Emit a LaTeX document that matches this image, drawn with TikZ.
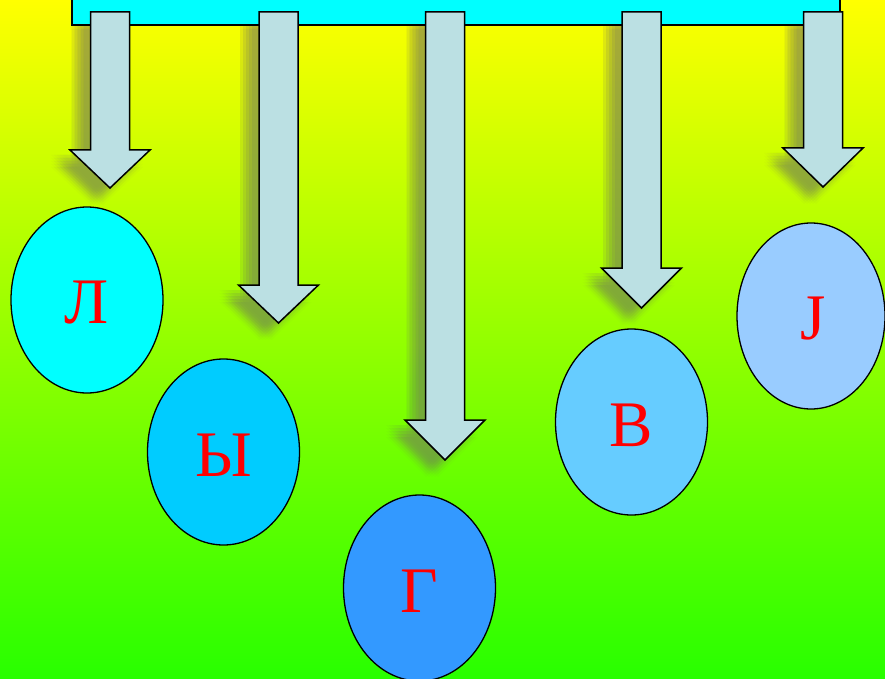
\documentclass[tikz,border=0pt]{standalone}
\usepackage{fontspec}
\setmainfont{Liberation Serif}
\usetikzlibrary{shapes.geometric}
\definecolor{bgtop}{RGB}{255,255,0}
\definecolor{bgbot}{RGB}{40,255,0}
\definecolor{barcyan}{RGB}{0,255,255}
\definecolor{arrowfill}{RGB}{187,224,227}
\definecolor{cA}{RGB}{0,255,255}
\definecolor{cB}{RGB}{0,204,255}
\definecolor{cC}{RGB}{51,153,255}
\definecolor{cD}{RGB}{102,204,255}
\definecolor{cE}{RGB}{153,204,255}
\newcommand\myarrow[4]{(#1-19.5,#2) -- (#1+19.5,#2) -- (#1+19.5,#3) -- (#1+40,#3) -- (#1,#4) -- (#1-40,#3) -- (#1-19.5,#3) -- cycle}
\newcommand\myshadow[4]{%
  \foreach \dx in {-19,-16,-13,-10,-7}{%
    \foreach \dy in {5,8,11,14,17}{%
      \fill[shadowfill, shift={(\dx,\dy)}] \myarrow{#1}{#2}{#3}{#4};}}}
\tikzset{
  shadowfill/.style={fill=black!55, opacity=0.03},
  blockarrow/.style={fill=arrowfill, draw=black, line width=1.5pt, line join=miter},
  letterball/.style={ellipse, draw=black, line width=1.3pt, minimum width=152pt, minimum height=186pt, inner sep=0pt, text=red, font=\fontsize{65}{70}\selectfont},
}
\begin{document}
\begin{tikzpicture}[x=1pt,y=-1pt]
\useasboundingbox (0,0) rectangle (885,679);
\clip (0,0) rectangle (885,679);
\shade[top color=bgtop, bottom color=bgbot] (0,0) rectangle (885,679);
% shadows
\myshadow{110}{12}{150}{188}
\myshadow{278.5}{12}{285}{323}
\myshadow{445}{12}{420}{460}
\myshadow{641.5}{12}{268}{308}
\myshadow{823}{12}{148}{187}
% top bar
\draw[fill=barcyan, line width=1.5pt] (72,-5) rectangle (840,25);
% arrows
\draw[blockarrow] \myarrow{110}{12}{150}{188};
\draw[blockarrow] \myarrow{278.5}{12}{285}{323};
\draw[blockarrow] \myarrow{445}{12}{420}{460};
\draw[blockarrow] \myarrow{641.5}{12}{268}{308};
\draw[blockarrow] \myarrow{823}{12}{148}{187};
% letters
\node[letterball, fill=cA] (l1) at (87,300) {};
\node[text=red, font=\fontsize{65}{70}\selectfont] (t1) at (87,303) {Л};
\node[letterball, fill=cB] (l2) at (223.5,452) {};
\node[text=red, font=\fontsize{65}{70}\selectfont] (t2) at (223.5,455) {Ы};
\node[letterball, fill=cC] (l3) at (419.5,588) {};
\node[text=red, font=\fontsize{65}{70}\selectfont] (t3) at (419.5,591) {Г};
\node[letterball, fill=cD] (l4) at (631.5,422) {};
\node[text=red, font=\fontsize{65}{70}\selectfont] (t4) at (631.5,425) {В};
\node[letterball, fill=cE, minimum width=148pt] (l5) at (811,316) {};
\node[text=red, font=\fontsize{65}{70}\selectfont] (t5) at (813,319) {J};
\end{tikzpicture}
\end{document}
